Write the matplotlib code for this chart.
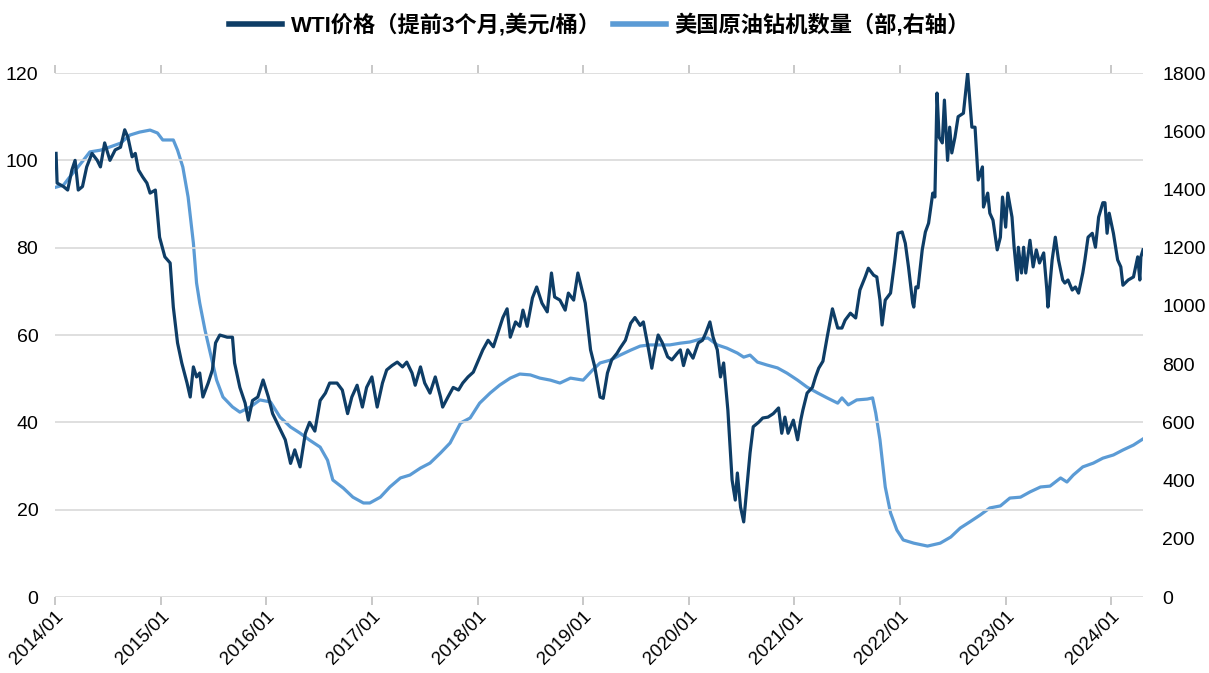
import numpy as np
import pandas as pd
import matplotlib
matplotlib.use("Agg")
import matplotlib.pyplot as plt
import matplotlib.dates as mdates

# WTI cena (posunutá o 3 mesiace), x = desatinný rok
wti_year = [
    2014.01, 2014.02, 2014.08, 2014.12, 2014.16, 2014.19, 2014.22, 2014.26, 2014.30, 2014.35,
    2014.40, 2014.43, 2014.47, 2014.52, 2014.57, 2014.62, 2014.66, 2014.69, 2014.73, 2014.76,
    2014.79, 2014.83, 2014.87, 2014.90, 2014.95, 2014.99, 2015.04, 2015.09, 2015.12, 2015.16,
    2015.20, 2015.25, 2015.28, 2015.31, 2015.34, 2015.37, 2015.40, 2015.45, 2015.49, 2015.52,
    2015.56, 2015.63, 2015.68, 2015.70, 2015.75, 2015.80, 2015.83, 2015.87, 2015.92, 2015.97,
    2016.02, 2016.06, 2016.13, 2016.18, 2016.23, 2016.27, 2016.32, 2016.37, 2016.41, 2016.46,
    2016.51, 2016.56, 2016.60, 2016.67, 2016.72, 2016.77, 2016.81, 2016.86, 2016.91, 2016.95,
    2017.00, 2017.05, 2017.10, 2017.14, 2017.19, 2017.24, 2017.29, 2017.33, 2017.38, 2017.41,
    2017.46, 2017.50, 2017.55, 2017.60, 2017.65, 2017.67, 2017.72, 2017.77, 2017.82, 2017.86,
    2017.91, 2017.96, 2018.01, 2018.05, 2018.10, 2018.15, 2018.20, 2018.24, 2018.28, 2018.31,
    2018.36, 2018.40, 2018.43, 2018.47, 2018.52, 2018.56, 2018.61, 2018.66, 2018.70, 2018.73,
    2018.78, 2018.83, 2018.86, 2018.91, 2018.95, 2018.99, 2019.02, 2019.07, 2019.11, 2019.16,
    2019.19, 2019.23, 2019.27, 2019.32, 2019.35, 2019.40, 2019.45, 2019.49, 2019.54, 2019.57,
    2019.62, 2019.65, 2019.68, 2019.71, 2019.75, 2019.80, 2019.84, 2019.89, 2019.92, 2019.95,
    2019.99, 2020.04, 2020.09, 2020.13, 2020.16, 2020.20, 2020.23, 2020.27, 2020.30, 2020.33,
    2020.37, 2020.41, 2020.44, 2020.46, 2020.49, 2020.52, 2020.55, 2020.58, 2020.61, 2020.66,
    2020.70, 2020.75, 2020.80, 2020.85, 2020.88, 2020.91, 2020.94, 2020.99, 2021.03, 2021.06,
    2021.08, 2021.12, 2021.17, 2021.20, 2021.23, 2021.27, 2021.31, 2021.36, 2021.41, 2021.45,
    2021.48, 2021.53, 2021.58, 2021.62, 2021.67, 2021.70, 2021.75, 2021.78, 2021.81, 2021.83,
    2021.86, 2021.91, 2021.95, 2021.98, 2022.02, 2022.05, 2022.08, 2022.12, 2022.13, 2022.15,
    2022.17, 2022.21, 2022.24, 2022.27, 2022.31, 2022.33, 2022.35, 2022.37, 2022.40, 2022.42,
    2022.45, 2022.47, 2022.49, 2022.52, 2022.55, 2022.60, 2022.64, 2022.66, 2022.68, 2022.71,
    2022.74, 2022.78, 2022.79, 2022.83, 2022.85, 2022.88, 2022.92, 2022.95, 2022.97, 2023.00,
    2023.02, 2023.06, 2023.08, 2023.11, 2023.12, 2023.15, 2023.17, 2023.19, 2023.23, 2023.26,
    2023.29, 2023.32, 2023.36, 2023.39, 2023.40, 2023.44, 2023.47, 2023.50, 2023.54, 2023.56,
    2023.59, 2023.63, 2023.66, 2023.69, 2023.73, 2023.75, 2023.78, 2023.82, 2023.85, 2023.88,
    2023.92, 2023.94, 2023.96, 2023.98, 2024.02, 2024.06, 2024.09, 2024.11, 2024.16, 2024.21,
    2024.25, 2024.27, 2024.28, 2024.30,
]
wti_price = [
    101.6, 94.8, 94.0, 93.2, 97.8, 100.0, 93.2, 94.0, 98.5, 101.6,
    100.0, 98.5, 104.0, 100.0, 102.4, 103.0, 107.0, 105.3, 100.8, 101.6,
    97.8, 96.2, 94.8, 92.5, 93.2, 82.4, 77.9, 76.5, 66.4, 58.2,
    53.6, 49.0, 45.8, 52.7, 50.4, 51.3, 45.8, 49.0, 52.0, 58.2,
    60.0, 59.5, 59.5, 53.6, 48.0, 44.4, 40.5, 45.0, 45.8, 49.7,
    45.8, 42.0, 38.5, 36.0, 30.6, 33.7, 29.8, 37.5, 40.0, 38.0,
    45.0, 46.7, 49.0, 49.0, 47.4, 42.0, 45.8, 48.5, 43.5, 48.0,
    50.4, 43.5, 49.0, 52.0, 53.0, 53.8, 52.7, 53.8, 51.3, 48.5,
    52.7, 49.0, 46.7, 50.4, 45.8, 43.5, 45.8, 48.0, 47.4, 49.0,
    50.4, 51.5, 54.3, 56.6, 58.8, 57.3, 61.0, 64.0, 66.0, 59.5,
    63.0, 62.0, 65.7, 62.0, 68.5, 71.0, 67.3, 65.3, 74.2, 68.7,
    68.0, 65.7, 69.6, 68.0, 74.2, 70.3, 67.3, 56.6, 52.7, 45.8,
    45.5, 51.3, 54.3, 55.8, 57.0, 58.8, 62.7, 64.0, 62.2, 63.0,
    56.6, 52.4, 56.6, 60.0, 58.2, 55.0, 54.3, 55.8, 56.6, 53.0,
    56.6, 54.7, 58.2, 58.8, 60.4, 63.0, 59.5, 56.6, 50.4, 53.6,
    42.8, 26.8, 22.2, 28.4, 20.6, 17.2, 25.2, 33.0, 39.0, 40.0,
    41.0, 41.2, 42.0, 43.3, 37.5, 41.2, 37.5, 40.5, 36.0, 40.5,
    42.8, 46.7, 48.0, 50.4, 52.4, 54.0, 59.5, 66.0, 61.6, 61.6,
    63.4, 65.0, 63.9, 70.3, 73.3, 75.3, 73.7, 73.3, 68.0, 62.3,
    68.0, 69.6, 77.0, 83.3, 83.6, 81.0, 75.6, 67.3, 66.4, 71.0,
    70.8, 79.5, 83.6, 85.6, 92.5, 91.6, 115.4, 105.3, 104.0, 113.8,
    100.0, 107.6, 101.7, 105.3, 110.0, 110.8, 120.0, 113.8, 107.6, 107.6,
    95.5, 98.5, 89.3, 92.5, 87.9, 86.3, 79.5, 82.4, 91.6, 84.7,
    92.5, 87.0, 80.1, 72.6, 80.1, 74.2, 80.1, 74.2, 81.7, 75.6,
    79.5, 76.5, 78.8, 70.3, 66.4, 77.2, 82.4, 77.2, 72.6, 71.9,
    72.6, 70.3, 71.0, 69.6, 74.2, 77.2, 82.4, 83.3, 80.1, 87.0,
    90.3, 90.3, 83.3, 87.9, 83.3, 77.2, 75.6, 71.4, 72.6, 73.3,
    77.9, 72.6, 77.9, 79.5,
]

# Počet ropných vrtných súprav v USA (pravá os)
rig_year = [
    2014.01, 2014.08, 2014.14, 2014.21, 2014.27, 2014.33, 2014.43, 2014.52, 2014.62, 2014.71,
    2014.80, 2014.90, 2014.97, 2015.02, 2015.12, 2015.16, 2015.21, 2015.26, 2015.31, 2015.34,
    2015.37, 2015.42, 2015.47, 2015.53, 2015.59, 2015.68, 2015.75, 2015.85, 2015.94, 2016.04,
    2016.13, 2016.23, 2016.32, 2016.41, 2016.51, 2016.58, 2016.63, 2016.73, 2016.82, 2016.92,
    2016.98, 2017.08, 2017.17, 2017.27, 2017.36, 2017.46, 2017.55, 2017.65, 2017.74, 2017.84,
    2017.93, 2018.02, 2018.12, 2018.21, 2018.31, 2018.40, 2018.50, 2018.59, 2018.69, 2018.78,
    2018.88, 2019.00, 2019.09, 2019.16, 2019.26, 2019.35, 2019.45, 2019.54, 2019.63, 2019.73,
    2019.82, 2019.92, 2020.01, 2020.11, 2020.18, 2020.27, 2020.36, 2020.46, 2020.52, 2020.58,
    2020.65, 2020.74, 2020.84, 2020.93, 2021.03, 2021.12, 2021.22, 2021.31, 2021.41, 2021.45,
    2021.51, 2021.59, 2021.69, 2021.74, 2021.77, 2021.81, 2021.86, 2021.91, 2021.97, 2022.03,
    2022.13, 2022.26, 2022.38, 2022.48, 2022.57, 2022.66, 2022.76, 2022.85, 2022.95, 2023.04,
    2023.14, 2023.23, 2023.33, 2023.42, 2023.52, 2023.58, 2023.64, 2023.73, 2023.83, 2023.92,
    2024.02, 2024.11, 2024.21, 2024.30,
]
rig_count = [
    1408, 1415, 1443, 1474, 1501, 1529, 1535, 1546, 1559, 1587,
    1597, 1604, 1594, 1570, 1570, 1535, 1477, 1374, 1216, 1079,
    1010, 917, 838, 745, 687, 653, 635, 653, 677, 670,
    618, 584, 563, 539, 515, 470, 402, 374, 343, 323,
    323, 343, 378, 409, 419, 443, 460, 495, 529, 598,
    615, 666, 701, 728, 752, 766, 763, 752, 745, 735,
    752, 745, 780, 804, 814, 831, 848, 862, 866, 866,
    866, 872, 876, 886, 890, 866, 855, 838, 824, 831,
    807, 797, 787, 769, 745, 721, 701, 684, 666, 684,
    660, 677, 680, 684, 632, 540, 378, 289, 230, 196,
    185, 175, 185, 206, 237, 258, 282, 306, 313, 340,
    343, 361, 378, 381, 409, 395, 419, 447, 460, 477,
    488, 505, 522, 543,
]

WTI_LABEL = "WTI价格（提前3个月,美元/桶）"
RIG_LABEL = "美国原油钻机数量（部,右轴）"

DARK = "#0e3d66"
LIGHT = "#5b9bd5"
GRID = "#d9d9d9"

FONT = ["Liberation Sans", "Noto Sans CJK SC", "DejaVu Sans"]
plt.rcParams["font.family"] = FONT


def to_dates(years):
    years = np.asarray(years, dtype=float)
    return pd.Timestamp("2014-01-01") + pd.to_timedelta((years - 2014) * 365.25, unit="D")


fig = plt.figure(figsize=(12.09, 6.73), dpi=100)
ax = fig.add_axes([0.0455, 0.1129, 0.8999, 0.7786])
ax2 = ax.twinx()

l1, = ax.plot(to_dates(wti_year), wti_price, color=DARK, linewidth=2.3,
              label=WTI_LABEL, zorder=3)
l2, = ax2.plot(to_dates(rig_year), rig_count, color=LIGHT, linewidth=2.3,
               label=RIG_LABEL, zorder=2)

# tmavá čiara nad svetlou
ax.set_zorder(ax2.get_zorder() + 1)
ax.patch.set_visible(False)

ax.set_ylim(0, 120)
ax.set_yticks(range(0, 121, 20))
ax2.set_ylim(0, 1800)
ax2.set_yticks(range(0, 1801, 200))
ax.set_xlim(pd.Timestamp("2014-01-01"), to_dates([2024.30])[0])

ax.yaxis.grid(True, color=GRID, linewidth=1.2)
ax.set_axisbelow(True)

for a in (ax, ax2):
    for s in a.spines.values():
        s.set_visible(False)

ax.xaxis.set_major_locator(mdates.YearLocator())
ax.xaxis.set_major_formatter(mdates.DateFormatter("%Y/%m"))
ax.tick_params(axis="x", top=True, direction="out", length=6, width=1.2,
               color="#bfbfbf", labelsize=13.5, pad=2)
ax.tick_params(axis="y", length=0, labelsize=14, pad=12)
ax2.tick_params(axis="y", length=0, labelsize=14, pad=14)
for lbl in ax.get_xticklabels():
    lbl.set_rotation(45)
    lbl.set_ha("right")
    lbl.set_rotation_mode("anchor")

fig.legend(handles=[l1, l2], loc="center", bbox_to_anchor=(0.496, 0.963),
           ncol=2, frameon=False, handlelength=2.4, handletextpad=0.4,
           columnspacing=0.5, prop={"family": FONT, "size": 16, "weight": "bold"})
for line in fig.legends[0].get_lines():
    line.set_linewidth(4)

fig.savefig("out.png", dpi=100)
